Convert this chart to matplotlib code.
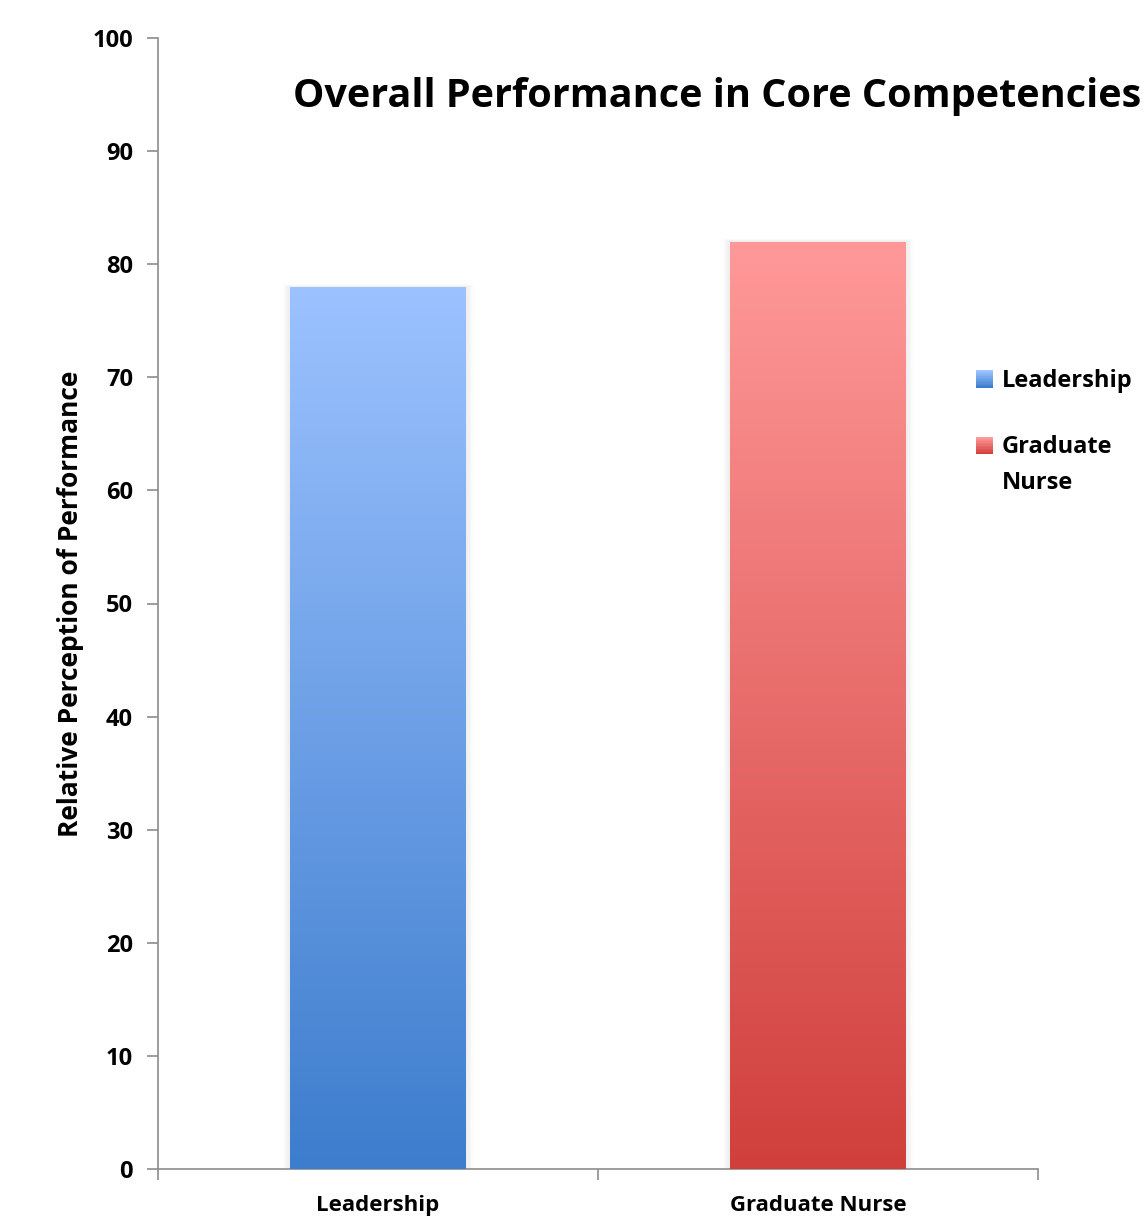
import matplotlib

matplotlib.use("Agg")

import matplotlib.pyplot as plt
import numpy as np
from matplotlib.colors import LinearSegmentedColormap
from matplotlib.legend_handler import HandlerPatch
from matplotlib.patches import Patch, Rectangle

plt.rcParams["font.family"] = ["Open Sans", "DejaVu Sans"]
plt.rcParams["font.weight"] = "bold"

categories = ["Leadership", "Graduate Nurse"]
values = [78, 82]
legend_labels = ["Leadership", "Graduate\nNurse"]
# (top colour, bottom colour) for each bar's vertical gradient
gradients = [("#9cc2ff", "#3d7dcd"), ("#ff9999", "#d03f3c")]
y_ticks = list(range(0, 101, 10))

AXIS_GREY = "#8c8c8c"
BAR_WIDTH = 0.4
LEGEND_SIZE = 17
LEGEND_LINESPACING = 1.7


class GradientHandler(HandlerPatch):
    """Small square swatch with a vertical gradient, aligned to the first text line."""

    def __init__(self, top, bottom, lines=1, steps=12):
        super().__init__()
        self.top = np.array(matplotlib.colors.to_rgb(top))
        self.bottom = np.array(matplotlib.colors.to_rgb(bottom))
        self.lines = lines
        self.steps = steps

    def create_artists(self, legend, orig_handle, xdescent, ydescent,
                       width, height, fontsize, trans):
        size = min(width, height)
        x0 = -xdescent + (width - size) / 2
        y0 = -ydescent + (height - size) / 2
        y0 += (self.lines - 1) * fontsize * LEGEND_LINESPACING / 2
        artists = []
        step = size / self.steps
        for i in range(self.steps):
            t = i / (self.steps - 1)
            colour = self.bottom * (1 - t) + self.top * t
            artists.append(Rectangle((x0, y0 + i * step), size, step * 1.05,
                                     facecolor=colour, edgecolor="none",
                                     transform=trans))
        return artists


fig = plt.figure(figsize=(11.46, 12.19), dpi=100)
ax = fig.add_axes([158 / 1146, 50 / 1219, 880 / 1146, 1131 / 1219])

x = np.arange(len(categories))
bars = ax.bar(x, values, width=BAR_WIDTH, color="none", edgecolor="none", zorder=3)

for bar, (top, bottom) in zip(bars, gradients):
    bx, bw, bh = bar.get_x(), bar.get_width(), bar.get_height()
    # soft drop shadow around the bar
    for k in range(1, 5):
        pad = 0.004 * k
        ax.add_patch(Rectangle((bx - pad, 0), bw + 2 * pad, bh + pad * 14,
                               facecolor="black", alpha=0.015, edgecolor="none",
                               zorder=2))
    cmap = LinearSegmentedColormap.from_list("grad", [bottom, top])
    grad = np.linspace(0, 1, 256).reshape(-1, 1)
    img = ax.imshow(grad, cmap=cmap, origin="lower", aspect="auto",
                    extent=(bx, bx + bw, 0, bh), zorder=3)
    img.set_clip_path(bar)

ax.set_xlim(-0.5, len(categories) - 0.5)
ax.set_ylim(0, 100)

ax.set_yticks(y_ticks)
ax.set_yticklabels([str(t) for t in y_ticks], fontsize=17, fontweight="bold")
ax.set_xticks(np.arange(len(categories) + 1) - 0.5)
ax.set_xticklabels([])
ax.set_xticks(x, minor=True)
ax.set_xticklabels(categories, minor=True, fontsize=16, fontweight="bold")
ax.tick_params(axis="x", which="minor", length=0, pad=19)
ax.tick_params(axis="both", which="major", length=8, width=1.2, color=AXIS_GREY,
               direction="out")
ax.tick_params(axis="y", pad=10)

for side in ("top", "right"):
    ax.spines[side].set_visible(False)
for side in ("left", "bottom"):
    ax.spines[side].set_color(AXIS_GREY)
    ax.spines[side].set_linewidth(1.2)

ax.set_ylabel("Relative Perception of Performance", fontsize=19,
              fontweight="bold", labelpad=6)

fig.text(293 / 1146, 1 - 97 / 1219, "Overall Performance in Core Competencies",
         fontsize=28.5, fontweight="bold", ha="left", va="center")

handles = [Patch(label=lab) for lab in legend_labels]
handler_map = {
    h: GradientHandler(top, bottom, lines=lab.count("\n") + 1)
    for h, lab, (top, bottom) in zip(handles, legend_labels, gradients)
}
leg = ax.legend(handles=handles, handler_map=handler_map, loc="upper left",
                bbox_to_anchor=(966 / 1146, 1 - 360 / 1219), bbox_transform=fig.transFigure,
                frameon=False, fontsize=LEGEND_SIZE, handlelength=0.75, handleheight=0.75,
                handletextpad=0.35, labelspacing=1.75, borderaxespad=0)
for text in leg.get_texts():
    text.set_linespacing(LEGEND_LINESPACING)

fig.savefig("out.png", dpi=100)
